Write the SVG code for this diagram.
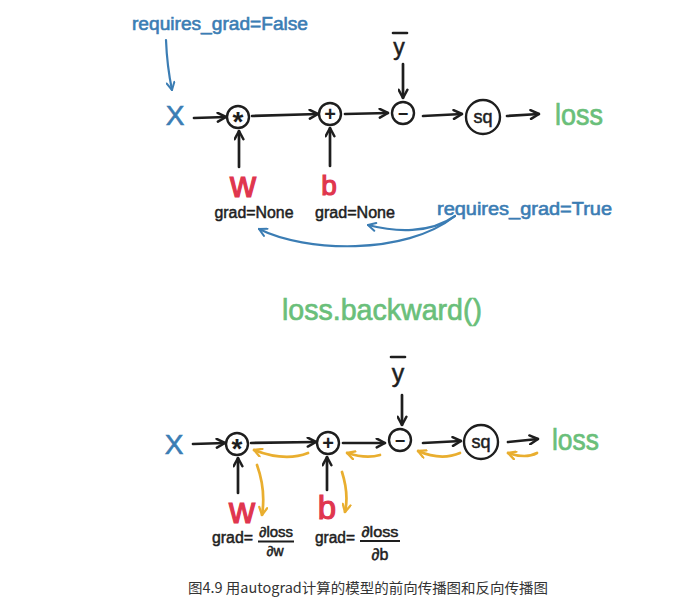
<svg xmlns="http://www.w3.org/2000/svg" width="682" height="600" viewBox="0 0 682 600">
<style>
  .bg{fill:#ffffff}
  .t{font-family:"Liberation Sans",Arial,sans-serif}
  .blue{fill:#3b7db4;stroke:#3b7db4;stroke-width:0.6}
  .red{fill:#e0364e;stroke:#e0364e;stroke-width:1.2}
  .green{fill:#6abf7a;stroke:#6abf7a;stroke-width:0.7}
  .blk{fill:#1e1e1e}
  .hv{stroke:#1e1e1e;stroke-width:0.5}
  .node{fill:none;stroke:#1e1e1e;stroke-width:2.4}
  .k{fill:none;stroke:#1e1e1e;stroke-width:2.7;stroke-linecap:round;marker-end:url(#ak)}
  .b{fill:none;stroke:#3b7db4;stroke-width:2.2;stroke-linecap:round;marker-end:url(#ab)}
  .o{fill:none;stroke:#e9ae2f;stroke-width:2.7;stroke-linecap:round;marker-end:url(#ao)}
  .bar{stroke:#1e1e1e;stroke-width:2.6;stroke-linecap:round}
  .cap{font-family:"Noto Sans CJK SC","Noto Sans",sans-serif;font-size:14px;fill:#333333}
</style>
<defs>
  <marker id="ak" viewBox="0 0 10 10" refX="9" refY="5" markerWidth="11" markerHeight="11" markerUnits="userSpaceOnUse" orient="auto">
    <path d="M1.5,1 L9,5 L1.5,9" fill="none" stroke="#1e1e1e" stroke-width="2.3" stroke-linecap="round" stroke-linejoin="round"/>
  </marker>
  <marker id="ab" viewBox="0 0 10 10" refX="9" refY="5" markerWidth="10" markerHeight="10" markerUnits="userSpaceOnUse" orient="auto">
    <path d="M1.5,1 L9,5 L1.5,9" fill="none" stroke="#3b7db4" stroke-width="2" stroke-linecap="round" stroke-linejoin="round"/>
  </marker>
  <marker id="ao" viewBox="0 0 10 10" refX="9" refY="5" markerWidth="10" markerHeight="10" markerUnits="userSpaceOnUse" orient="auto">
    <path d="M1.5,1 L9,5 L1.5,9" fill="none" stroke="#e9ae2f" stroke-width="2.3" stroke-linecap="round" stroke-linejoin="round"/>
  </marker>
</defs>
<rect class="bg" x="0" y="0" width="682" height="600"/>

<!-- ===== Forward graph (top) ===== -->
<g id="top-note-false">
  <text class="t blue" x="132" y="30" font-size="18" textLength="176" lengthAdjust="spacingAndGlyphs">requires_grad=False</text>
</g>
<g id="top-x"><text class="t blue" x="175" y="125" font-size="28" text-anchor="middle">X</text></g>
<g id="top-mul">
  <circle class="node" cx="238" cy="117" r="11"/>
  <text class="t blk" x="238" y="131" font-size="28" font-weight="bold" text-anchor="middle">*</text>
</g>
<g id="top-add">
  <circle class="node" cx="330" cy="114" r="11"/>
  <text class="t blk" x="330" y="121" font-size="20" font-weight="bold" text-anchor="middle">+</text>
</g>
<g id="top-sub">
  <circle class="node" cx="403" cy="113" r="11"/>
  <text class="t blk" x="403" y="120" font-size="18" font-weight="bold" text-anchor="middle">−</text>
</g>
<g id="top-sq">
  <circle class="node" cx="483" cy="117" r="17"/>
  <text class="t blk hv" x="483" y="123" font-size="18" text-anchor="middle">sq</text>
</g>
<g id="top-loss"><text class="t green" x="555" y="125" font-size="30" textLength="48" lengthAdjust="spacingAndGlyphs">loss</text></g>
<g id="top-ybar">
  <line class="bar" x1="393" y1="33" x2="407" y2="33"/>
  <text class="t blk hv" x="399" y="55" font-size="23" text-anchor="middle">y</text>
</g>
<g id="top-w"><text class="t red" x="243" y="197" font-size="36" text-anchor="middle">w</text></g>
<g id="top-b"><text class="t red" x="329" y="195" font-size="28" text-anchor="middle">b</text></g>
<g id="top-wgrad"><text class="t blk hv" x="254" y="218" font-size="16" text-anchor="middle" textLength="79" lengthAdjust="spacingAndGlyphs">grad=None</text></g>
<g id="top-bgrad"><text class="t blk hv" x="355" y="218" font-size="16" text-anchor="middle" textLength="80" lengthAdjust="spacingAndGlyphs">grad=None</text></g>
<g id="top-note-true">
  <text class="t blue" x="437" y="215" font-size="18" textLength="175" lengthAdjust="spacingAndGlyphs">requires_grad=True</text>
</g>

<g id="top-connectors">
  <path class="b" d="M166,40 Q167,66 172,90"/>
  <path class="k" d="M194,118 L226,117"/>
  <path class="k" d="M252,116 L318,114"/>
  <path class="k" d="M345,114 L388,113"/>
  <path class="k" d="M423,116 L462,114"/>
  <path class="k" d="M507,116 L539,114"/>
  <path class="k" d="M403,64 L403,98"/>
  <path class="k" d="M239,167 L239,131"/>
  <path class="k" d="M330,166 L330,128"/>
  <path class="b" d="M455,216 C405,256 305,252 259,229"/>
  <path class="b" d="M455,216 C430,234 395,232 368,225"/>
</g>

<g id="backward-call"><text class="t green" x="282" y="320" font-size="30" textLength="200" lengthAdjust="spacingAndGlyphs">loss.backward()</text></g>

<!-- ===== Backward graph (bottom) ===== -->
<g id="bot-x"><text class="t blue" x="174" y="454" font-size="28" text-anchor="middle">X</text></g>
<g id="bot-mul">
  <circle class="node" cx="237" cy="444" r="11"/>
  <text class="t blk" x="237" y="458" font-size="28" font-weight="bold" text-anchor="middle">*</text>
</g>
<g id="bot-add">
  <circle class="node" cx="328" cy="443" r="11"/>
  <text class="t blk" x="328" y="450" font-size="20" font-weight="bold" text-anchor="middle">+</text>
</g>
<g id="bot-sub">
  <circle class="node" cx="400" cy="440" r="11"/>
  <text class="t blk" x="400" y="447" font-size="18" font-weight="bold" text-anchor="middle">−</text>
</g>
<g id="bot-sq">
  <circle class="node" cx="481" cy="442" r="17"/>
  <text class="t blk hv" x="481" y="448" font-size="18" text-anchor="middle">sq</text>
</g>
<g id="bot-loss"><text class="t green" x="552" y="450" font-size="30" textLength="47" lengthAdjust="spacingAndGlyphs">loss</text></g>
<g id="bot-ybar">
  <line class="bar" x1="391" y1="357" x2="405" y2="357"/>
  <text class="t blk hv" x="398" y="382" font-size="25" text-anchor="middle">y</text>
</g>
<g id="bot-w"><text class="t red" x="242" y="523" font-size="36" text-anchor="middle">w</text></g>
<g id="bot-b"><text class="t red" x="327" y="519" font-size="33" text-anchor="middle">b</text></g>
<g id="bot-wgrad">
  <text class="t blk hv" x="212" y="543" font-size="16" textLength="41" lengthAdjust="spacingAndGlyphs">grad=</text>
  <text class="t blk hv" x="276" y="537" font-size="14" text-anchor="middle" textLength="34" lengthAdjust="spacingAndGlyphs">∂loss</text>
  <line x1="258" y1="541.5" x2="294" y2="541.5" stroke="#1e1e1e" stroke-width="1.8"/>
  <text class="t blk hv" x="275" y="556" font-size="14" text-anchor="middle">∂w</text>
</g>
<g id="bot-bgrad">
  <text class="t blk hv" x="315" y="543" font-size="16" textLength="40" lengthAdjust="spacingAndGlyphs">grad=</text>
  <text class="t blk hv" x="380" y="537" font-size="15" text-anchor="middle" textLength="37" lengthAdjust="spacingAndGlyphs">∂loss</text>
  <line x1="360" y1="541" x2="400" y2="541" stroke="#1e1e1e" stroke-width="1.8"/>
  <text class="t blk hv" x="380" y="560" font-size="16" text-anchor="middle">∂b</text>
</g>

<g id="bot-connectors">
  <path class="k" d="M193,444 L225,443"/>
  <path class="k" d="M251,443 L316,442"/>
  <path class="k" d="M343,443 L385,443"/>
  <path class="k" d="M423,443 L461,441"/>
  <path class="k" d="M508,442 L538,439"/>
  <path class="k" d="M402,395 L402,425"/>
  <path class="k" d="M238,493 L238,458"/>
  <path class="k" d="M327,490 L327,457"/>
  <path class="o" d="M308,453 Q285,462 254,450"/>
  <path class="o" d="M380,455 Q366,459 347,453"/>
  <path class="o" d="M460,453 Q441,461 418,451"/>
  <path class="o" d="M537,453 Q526,459 508,453"/>
  <path class="o" d="M257,465 Q266,490 262,515"/>
  <path class="o" d="M342,472 Q349,494 345,512"/>
</g>

<g id="caption"><text class="cap" x="188" y="593" textLength="360" lengthAdjust="spacingAndGlyphs">图4.9 用autograd计算的模型的前向传播图和反向传播图</text></g>
</svg>
